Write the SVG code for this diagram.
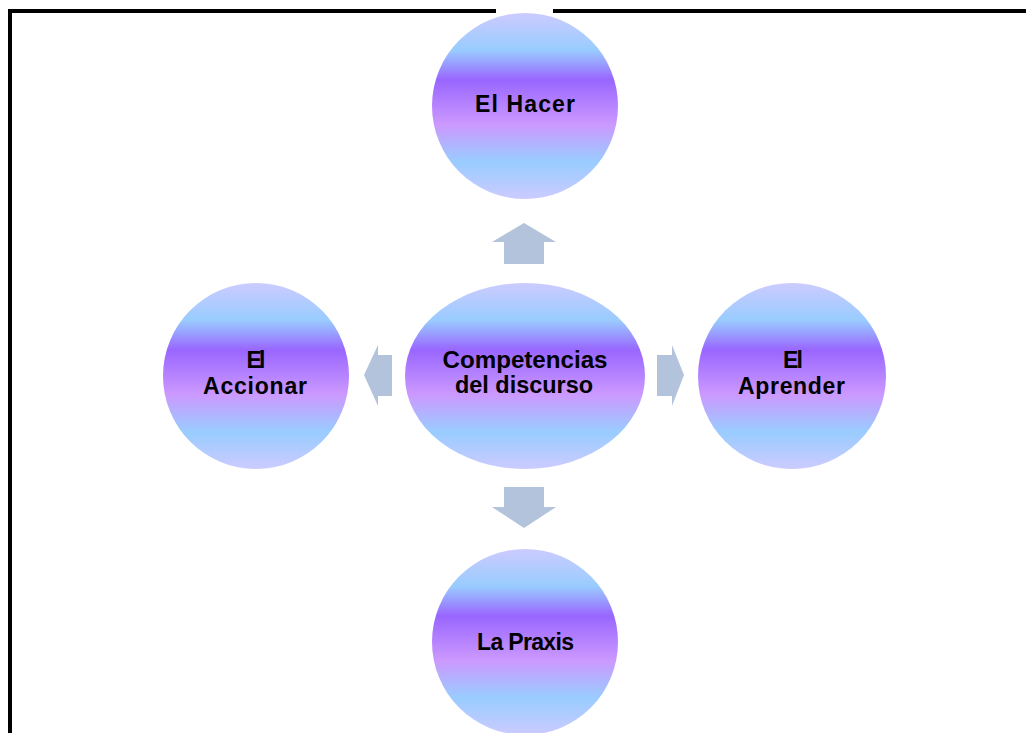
<svg xmlns="http://www.w3.org/2000/svg" width="1026" height="733" viewBox="0 0 1026 733">
  <defs>
    <linearGradient id="orb" x1="0" y1="0" x2="0" y2="1">
      <stop offset="0" stop-color="#cccbff"/>
      <stop offset="0.2" stop-color="#99ccff"/>
      <stop offset="0.36" stop-color="#9966ff"/>
      <stop offset="0.6" stop-color="#cc99ff"/>
      <stop offset="0.8" stop-color="#99ccff"/>
      <stop offset="1" stop-color="#cccbff"/>
    </linearGradient>
    <style>
      .orb { fill: url(#orb); }
      .lbl { font-family: "Liberation Sans", Arial, sans-serif; font-size: 23px; font-weight: bold; fill: #000; text-anchor: middle; }
      .arrow { fill: #b3c3dc; }
    </style>
  </defs>

  <rect width="1026" height="733" fill="#ffffff"/>

  <!-- frame: top and left edges only -->
  <path d="M10 733 V11 H1026" fill="none" stroke="#000" stroke-width="4"/>
  <rect x="496" y="8" width="57" height="6" fill="#ffffff"/>

  <!-- connectors -->
  <g id="connectors">
    <polygon class="arrow" points="524,223 556,242 544,242 544,264 504,264 504,242 492,242"/>
    <polygon class="arrow" points="364,375 378,345 378,355 392,355 392,396 378,396 378,406"/>
    <polygon class="arrow" points="684,375 672,345 672,355 657,355 657,396 672,396 672,406"/>
    <polygon class="arrow" points="524,528 556,507 544,507 544,487 504,487 504,507 492,507"/>
  </g>

  <g id="node-hacer">
    <ellipse class="orb" cx="525" cy="106" rx="93" ry="93"/>
    <text class="lbl" x="525" y="112" textLength="100" lengthAdjust="spacing">El Hacer</text>
  </g>

  <g id="node-competencias">
    <ellipse class="orb" cx="525" cy="376" rx="120" ry="93"/>
    <text class="lbl" x="525" y="368" textLength="165" lengthAdjust="spacingAndGlyphs">Competencias</text>
    <text class="lbl" x="524" y="393" textLength="138" lengthAdjust="spacingAndGlyphs">del discurso</text>
  </g>

  <g id="node-accionar">
    <ellipse class="orb" cx="256" cy="376" rx="93" ry="93"/>
    <text class="lbl" x="256" y="368" textLength="19" lengthAdjust="spacing">El</text>
    <text class="lbl" x="255" y="394" textLength="104" lengthAdjust="spacing">Accionar</text>
  </g>

  <g id="node-aprender">
    <ellipse class="orb" cx="792" cy="376" rx="94" ry="93"/>
    <text class="lbl" x="793" y="368" textLength="20" lengthAdjust="spacing">El</text>
    <text class="lbl" x="791.5" y="394" textLength="107" lengthAdjust="spacing">Aprender</text>
  </g>

  <g id="node-praxis">
    <ellipse class="orb" cx="525" cy="642" rx="93" ry="93"/>
    <text class="lbl" x="525.5" y="650" textLength="97" lengthAdjust="spacing">La Praxis</text>
  </g>
</svg>
